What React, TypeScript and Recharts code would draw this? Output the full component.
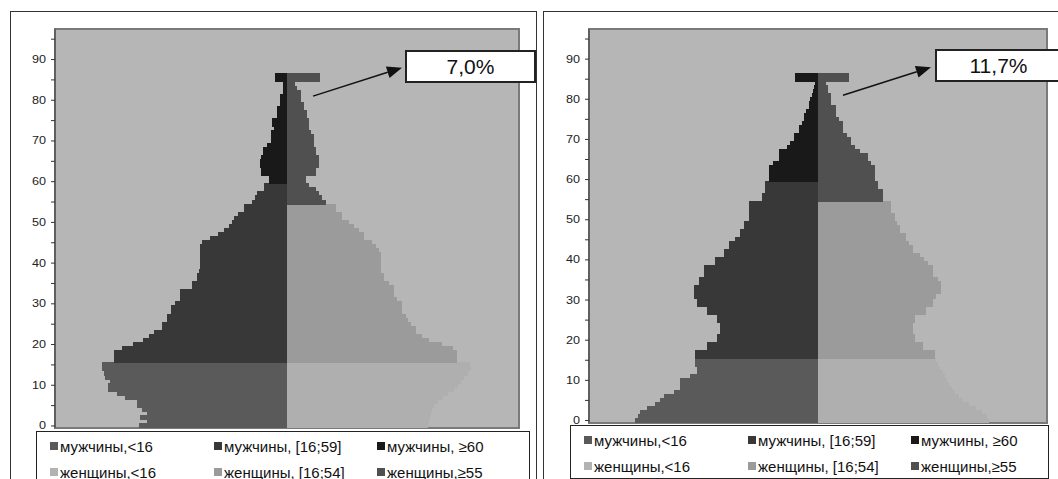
import React from 'react';
import { BarChart, Bar, XAxis, YAxis, CartesianGrid, ReferenceArea, ReferenceLine } from 'recharts';

// Age categories 0..97 (one band per year of age)
const AGES: number[] = Array.from({ length: 98 }, (_, i) => i);

// Left pyramid (values per age 0..86; 85-86 = open top group)
const MALE_LEFT = [
  148, 140, 147, 140, 145, 150, 150, 162, 170, 179, 179, 177, 182, 183, 185, 185,
  173, 173, 173, 165, 154, 144, 138, 133, 125, 125, 120, 120, 116, 116, 112,
  107, 107, 107, 95, 95, 90, 90, 88, 87, 87, 87, 87, 87, 87, 85,
  77, 69, 63, 58, 55, 53, 49, 43, 43, 35, 32, 30, 23, 23,
  18, 18, 26, 26, 27, 27, 26, 24, 24, 20, 16, 16, 16, 13, 15, 15, 10, 10, 10, 7, 7, 7, 4, 4, 4, 12, 12,
];
const FEMALE_LEFT = [
  140, 141, 142, 143, 144, 146, 150, 155, 160, 166, 170, 173, 176, 180, 183, 182,
  169, 169, 169, 165, 154, 141, 134, 128, 128, 123, 120, 118, 114, 114, 114,
  109, 106, 106, 106, 101, 96, 96, 93, 93, 93, 93, 93, 91, 88, 84,
  76, 76, 71, 66, 61, 54, 54, 48, 48, 38, 34, 31, 28, 21,
  18, 18, 28, 28, 31, 31, 31, 28, 28, 26, 26, 26, 23, 21, 21, 21, 19, 19, 16, 16, 13, 13, 13, 9, 7, 32, 32,
];

// Right pyramid
const MALE_RIGHT = [
  183, 180, 178, 171, 163, 158, 154, 144, 138, 138, 138, 128, 121, 121, 123, 123,
  123, 123, 111, 111, 101, 101, 98, 98, 98, 101, 101, 111, 111, 121, 121,
  124, 124, 124, 119, 119, 114, 114, 114, 103, 103, 94, 94, 89, 89, 83,
  78, 78, 74, 74, 69, 69, 69, 69, 69, 56, 56, 53, 53, 53,
  49, 49, 49, 49, 45, 39, 39, 39, 31, 28, 24, 24, 19, 19, 16, 14, 14, 12, 9, 9, 8, 6, 5, 4, 3, 23, 23,
];
const FEMALE_RIGHT = [
  170, 168, 163, 157, 150, 144, 140, 136, 133, 130, 128, 126, 124, 121, 119, 117,
  116, 116, 104, 104, 96, 96, 94, 94, 94, 96, 96, 107, 107, 114, 114,
  117, 122, 122, 122, 119, 114, 114, 114, 109, 105, 101, 94, 94, 90, 87,
  87, 81, 81, 78, 76, 76, 72, 72, 72, 64, 64, 64, 59, 59,
  56, 56, 56, 56, 52, 49, 49, 41, 36, 32, 32, 28, 24, 24, 24, 20, 17, 17, 17, 12, 12, 12, 9, 9, 7, 30, 30,
];

const MALE_BOUNDS = [16, 60];
const FEMALE_BOUNDS = [16, 55];
const ANNOTATIONS = ['7,0%', '11,7%'];
const LEGEND_ROWS = [
  ['мужчины,<16', 'мужчины, [16;59]', 'мужчины, ≥60'],
  ['женщины,<16', 'женщины, [16;54]', 'женщины,≥55'],
];
const SERIES = [
  { key: 'm1', color: '#5a5a5a' },
  { key: 'm2', color: '#383838' },
  { key: 'm3', color: '#191919' },
  { key: 'f1', color: '#afafaf' },
  { key: 'f2', color: '#9b9b9b' },
  { key: 'f3', color: '#505050' },
];
const LEGEND_COLORS = [
  ['#5a5a5a', '#383838', '#191919'],
  ['#b3b3b3', '#9b9b9b', '#505050'],
];

const FONT = '"Liberation Sans", Arial, sans-serif';
const BG = '#b6b6b6';

function buildRows(male: number[], female: number[]) {
  return AGES.map((age) => {
    const row: Record<string, number> = { age };
    const m = male[age];
    const f = female[age];
    if (m !== undefined) {
      if (age < MALE_BOUNDS[0]) row.m1 = -m;
      else if (age < MALE_BOUNDS[1]) row.m2 = -m;
      else row.m3 = -m;
    }
    if (f !== undefined) {
      if (age < FEMALE_BOUNDS[0]) row.f1 = f;
      else if (age < FEMALE_BOUNDS[1]) row.f2 = f;
      else row.f3 = f;
    }
    return row;
  });
}

const AgeTick = (props: any) => {
  const { x, y, payload } = props;
  const v = Number(payload.value);
  if (v % 10 !== 0) return <g />;
  const s = String(v);
  return (
    <text
      x={x}
      y={y}
      dy={3.5}
      textAnchor="end"
      fontSize={10}
      fill="#222"
      fontFamily={FONT}
      textLength={s.length * 7}
      lengthAdjust="spacingAndGlyphs"
    >
      {s}
    </text>
  );
};

const Arrow = (p: any) => {
  const { x1, y1, x2, y2 } = p;
  if ([x1, y1, x2, y2].some((v) => typeof v !== 'number' || isNaN(v))) return <g />;
  const ang = Math.atan2(y2 - y1, x2 - x1);
  const L = 15;
  const W = 6;
  const bx = x2 - L * Math.cos(ang);
  const by = y2 - L * Math.sin(ang);
  const pts = `${x2},${y2} ${bx - W * Math.sin(ang)},${by + W * Math.cos(ang)} ${bx + W * Math.sin(ang)},${by - W * Math.cos(ang)}`;
  return (
    <g>
      <line x1={x1} y1={y1} x2={bx} y2={by} stroke="#111" strokeWidth={1.4} />
      <polygon points={pts} fill="#111" />
    </g>
  );
};

type PanelProps = {
  male: number[];
  female: number[];
  half: number;
  width: number;
  height: number;
  margin: { top: number; right: number; bottom: number; left: number };
  arrow: [number, number, number, number];
};

function Pyramid({ male, female, half, width, height, margin, arrow }: PanelProps) {
  const rows = buildRows(male, female);
  return (
    <BarChart
      width={width}
      height={height}
      data={rows}
      layout="vertical"
      stackOffset="sign"
      barCategoryGap={0}
      barGap={0}
      margin={margin}
    >
      <CartesianGrid fill={BG} horizontal={false} vertical={false} stroke="none" />
      <XAxis type="number" domain={[-half, half]} hide allowDataOverflow />
      <YAxis
        type="category"
        dataKey="age"
        reversed
        interval={4}
        width={30}
        tickSize={4}
        tickMargin={5}
        tick={<AgeTick />}
        tickLine={{ stroke: '#333' }}
        axisLine={{ stroke: '#444' }}
      />
      {SERIES.map((s) => (
        <Bar
          key={s.key}
          dataKey={s.key}
          stackId="p"
          fill={s.color}
          stroke={s.color}
          strokeWidth={1}
          isAnimationActive={false}
        />
      ))}
      <ReferenceArea x1={-half} x2={half} fill="none" stroke="#7a7a7a" strokeWidth={2} ifOverflow="visible" />
      <ReferenceLine
        segment={[
          { x: arrow[0], y: arrow[1] },
          { x: arrow[2], y: arrow[3] },
        ]}
        ifOverflow="visible"
        shape={<Arrow />}
      />
    </BarChart>
  );
}

function LegendBox({ left, top, width, height }: { left: number; top: number; width: number; height: number }) {
  const colX = [13, 177, 340];
  const rowY = [14, 40];
  return (
    <div
      style={{
        position: 'absolute',
        left,
        top,
        width,
        height,
        border: '1px solid #222',
        background: '#fff',
        boxSizing: 'border-box',
      }}
    >
      {LEGEND_ROWS.map((row, ri) =>
        row.map((label, ci) => (
          <div
            key={`${ri}-${ci}`}
            style={{
              position: 'absolute',
              left: colX[ci],
              top: rowY[ri] - 9,
              height: 18,
              display: 'flex',
              alignItems: 'center',
              whiteSpace: 'nowrap',
              fontFamily: FONT,
              fontSize: 15,
              color: '#111',
            }}
          >
            <span
              style={{
                display: 'inline-block',
                width: 8,
                height: 8,
                background: LEGEND_COLORS[ri][ci],
                marginRight: 2,
              }}
            />
            {label}
          </div>
        ))
      )}
    </div>
  );
}

function NoteBox({ left, top, width, text }: { left: number; top: number; width: number; text: string }) {
  return (
    <div
      style={{
        position: 'absolute',
        left,
        top,
        width,
        height: 33,
        border: '2px solid #222',
        boxSizing: 'border-box',
        background: '#fff',
        fontFamily: FONT,
        fontSize: 21,
        color: '#111',
        display: 'flex',
        alignItems: 'center',
        justifyContent: 'center',
      }}
    >
      {text}
    </div>
  );
}

export default function App() {
  return (
    <div
      style={{
        position: 'absolute',
        left: 0,
        top: 0,
        width: 1058,
        height: 479,
        overflow: 'hidden',
        background: '#fff',
      }}
    >
      <style>{`.recharts-rectangle{shape-rendering:crispEdges;}`}</style>
      <div style={{ position: 'absolute', left: 10, top: 11, width: 527, height: 520, border: '1px solid #333', boxSizing: 'border-box' }} />
      <div style={{ position: 'absolute', left: 543, top: 11, width: 530, height: 520, border: '1px solid #333', boxSizing: 'border-box' }} />

      <div style={{ position: 'absolute', left: 0, top: 0 }}>
        <Pyramid
          male={MALE_LEFT}
          female={FEMALE_LEFT}
          half={232}
          width={530}
          height={440}
          margin={{ top: 29, right: 11, bottom: 12, left: 25 }}
          arrow={[26, 81, 115, 88]}
        />
      </div>
      <div style={{ position: 'absolute', left: 530, top: 0 }}>
        <Pyramid
          male={MALE_RIGHT}
          female={FEMALE_RIGHT}
          half={229}
          width={528}
          height={440}
          margin={{ top: 29, right: 11, bottom: 17.5, left: 29 }}
          arrow={[25, 81, 113, 88]}
        />
      </div>

      <LegendBox left={36} top={431} width={494} height={60} />
      <LegendBox left={570} top={425} width={479} height={54} />

      <NoteBox left={405} top={50} width={131} text={ANNOTATIONS[0]} />
      <NoteBox left={935} top={49} width={127} text={ANNOTATIONS[1]} />
    </div>
  );
}
